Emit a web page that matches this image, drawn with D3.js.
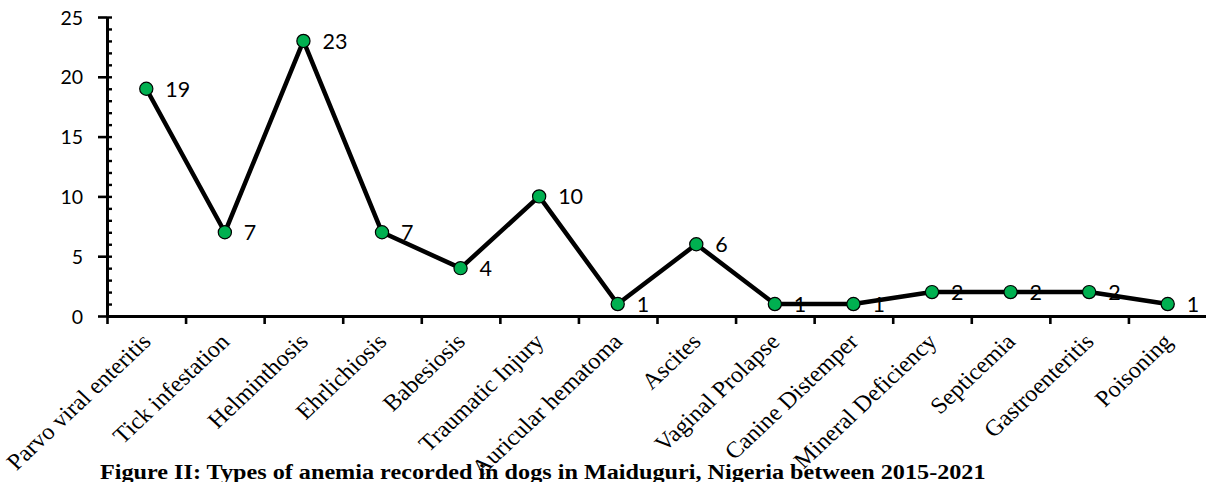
<!DOCTYPE html>
<html>
<head>
<meta charset="utf-8">
<script src="https://cdn.jsdelivr.net/npm/d3@7"></script>
<style>
  html, body { margin: 0; padding: 0; background: #ffffff; }
  svg { display: block; }
</style>
</head>
<body>
<svg id="chart" width="1206" height="482"></svg>
<script>
// Anemia types recorded in dogs, Maiduguri 2015-2021
const categories = [
  "Parvo viral enteritis", "Tick infestation", "Helminthosis", "Ehrlichiosis",
  "Babesiosis", "Traumatic Injury", "Auricular hematoma", "Ascites",
  "Vaginal Prolapse", "Canine Distemper", "Mineral Deficiency", "Septicemia",
  "Gastroenteritis", "Poisoning"
];
const cases = [19, 7, 23, 7, 4, 10, 1, 6, 1, 1, 2, 2, 2, 1];
const yMajorTicks = [0, 5, 10, 15, 20, 25];
const yMinorTicks = d3.range(0, 26);
const caption = "Figure II: Types of anemia recorded in dogs in Maiduguri, Nigeria between 2015-2021";

const svg = d3.select("#chart");

const plot = { left: 107, right: 1207, top: 17, bottom: 316 };

const x = d3.scaleBand().domain(categories).range([plot.left, plot.right]).padding(0);
const xEdges = d3.scaleLinear().domain([0, categories.length]).range([plot.left, plot.right]);
const y = d3.scaleLinear().domain([0, 25]).range([plot.bottom, plot.top]);

const cx = d => x(d) + x.bandwidth() / 2;

// y axis: major ticks outward with labels, minor ticks inward
const yAxis = svg.append("g")
  .attr("transform", `translate(${plot.left},0)`)
  .call(d3.axisLeft(y).tickValues(yMajorTicks).tickSize(9).tickSizeOuter(0).tickPadding(15));
yAxis.select(".domain").attr("stroke", "#000").attr("stroke-width", 3);
yAxis.selectAll(".tick line").attr("stroke", "#000").attr("stroke-width", 2.6);
yAxis.selectAll(".tick text")
  .attr("font-family", "Lato, 'Open Sans', sans-serif")
  .attr("font-size", 19.5)
  .attr("fill", "#000")
  .attr("dy", "0.36em");

const yMinor = svg.append("g")
  .attr("transform", `translate(${plot.left},0)`)
  .call(d3.axisRight(y).tickValues(yMinorTicks).tickSize(5).tickSizeOuter(0).tickFormat(""));
yMinor.select(".domain").remove();
yMinor.selectAll(".tick line").attr("stroke", "#000").attr("stroke-width", 2.4);

// x axis: ticks at category boundaries
const xAxis = svg.append("g")
  .attr("transform", `translate(0,${plot.bottom})`)
  .call(d3.axisBottom(xEdges).tickValues(d3.range(0, categories.length + 1)).tickSize(8).tickSizeOuter(0).tickFormat(""));
xAxis.select(".domain").attr("stroke", "#000").attr("stroke-width", 3);
xAxis.selectAll(".tick line").attr("stroke", "#000").attr("stroke-width", 2.6);

// rotated category labels
svg.append("g")
  .selectAll("text")
  .data(categories)
  .join("text")
  .attr("transform", d => `translate(${cx(d) + 6},343) scale(1.06,1) rotate(-45)`)
  .attr("text-anchor", "end")
  .attr("font-family", "'Liberation Serif', 'Times New Roman', serif")
  .attr("font-size", 23)
  .attr("fill", "#000")
  .text(d => d);

// series line
const points = categories.map((c, i) => ({ c, v: cases[i] }));
svg.append("path")
  .datum(points)
  .attr("fill", "none")
  .attr("stroke", "#000")
  .attr("stroke-width", 4.5)
  .attr("stroke-linejoin", "round")
  .attr("d", d3.line().x(d => cx(d.c)).y(d => y(d.v)));

// markers
svg.append("g")
  .selectAll("circle")
  .data(points)
  .join("circle")
  .attr("cx", d => cx(d.c))
  .attr("cy", d => y(d.v))
  .attr("r", 6.6)
  .attr("fill", "#00b050")
  .attr("stroke", "#000")
  .attr("stroke-width", 1.2);

// value labels
svg.append("g")
  .selectAll("text")
  .data(points)
  .join("text")
  .attr("x", d => cx(d.c) + 19)
  .attr("y", d => y(d.v))
  .attr("dy", "0.36em")
  .attr("font-family", "Lato, 'Open Sans', sans-serif")
  .attr("font-size", 21.5)
  .attr("fill", "#000")
  .text(d => d.v);

// caption
svg.append("text")
  .attr("transform", "translate(100,479) scale(1.1,1)")
  .attr("font-family", "'Liberation Serif', 'Times New Roman', serif")
  .attr("font-weight", "bold")
  .attr("font-size", 22)
  .attr("fill", "#000")
  .text(caption);
</script>
</body>
</html>
